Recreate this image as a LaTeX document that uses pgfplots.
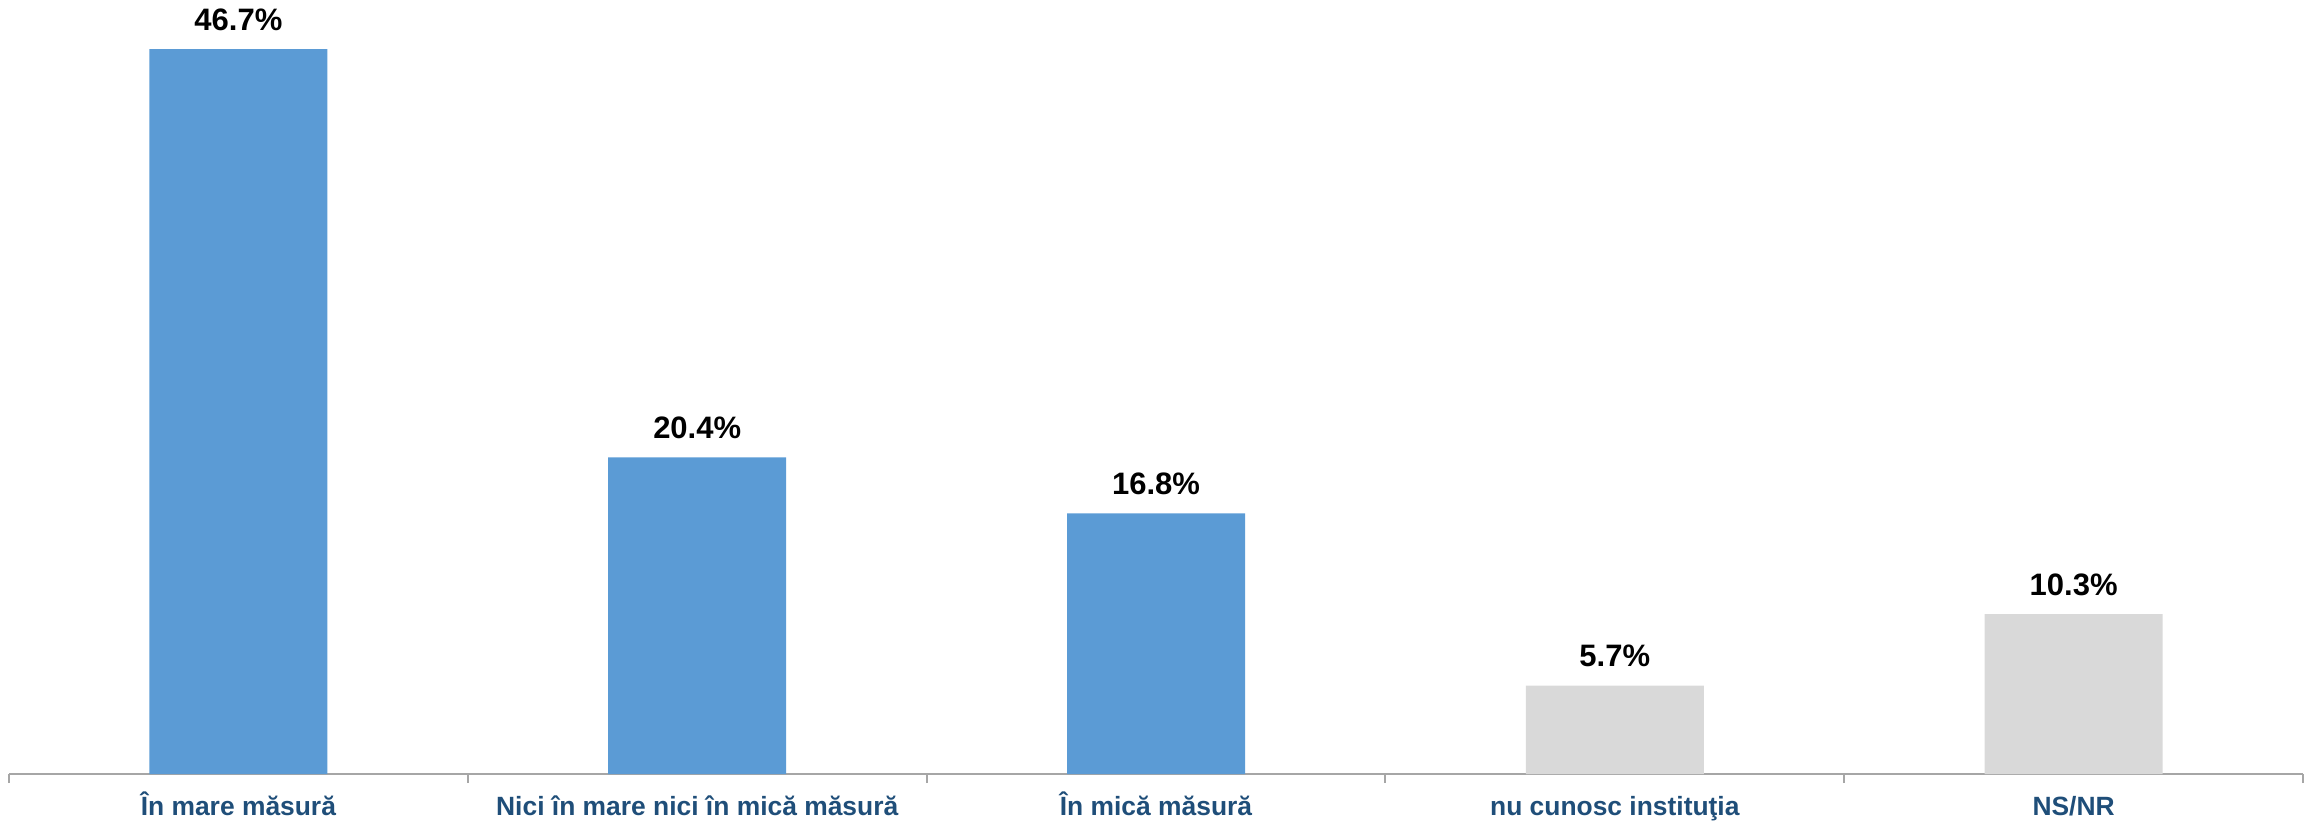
\documentclass[border=0pt]{standalone}
\usepackage{pgfplots}
\pgfplotsset{compat=1.18}
\usepackage{fontspec}
\setmainfont{Liberation Sans}
\definecolor{barblue}{HTML}{5B9BD5}
\definecolor{bargray}{HTML}{D9D9D9}
\definecolor{labblue}{HTML}{1F4E79}
\definecolor{axgray}{HTML}{A6A6A6}
\begin{document}
\begin{tikzpicture}
\begin{axis}[
  name=ax,
  scale only axis,
  width=1147pt, height=387pt,
  xmin=-0.5, xmax=4.5, ymin=0, ymax=49.87,
  ybar, bar width=89pt,
  axis x line*=bottom,
  axis y line=none,
  axis line style={axgray, line width=1pt},
  xtick={-0.5,0.5,1.5,2.5,3.5,4.5},
  x tick label as interval,
  xticklabels={În mare măsură, Nici în mare nici în mică măsură, În mică măsură, nu cunosc instituţia, NS/NR},
  tick align=outside,
  major tick length=4.5pt,
  x tick style={axgray, line width=1pt},
  x tick label style={font=\fontsize{13.2}{15}\selectfont\bfseries, text=labblue, text height=10pt, text depth=3pt, anchor=north, yshift=-2.5pt},
  /pgf/number format/assume math mode=true,
  nodes near coords={\pgfmathprintnumber[fixed,precision=1,fixed zerofill,assume math mode=true]{\pgfplotspointmeta}\%},
  every node near coord/.append style={font=\fontsize{15.5}{17}\selectfont\bfseries, text=black, anchor=south, inner sep=0pt, yshift=9pt},
  clip=false,
]
\addplot[fill=barblue, draw=none, bar shift=0pt] coordinates {(0,46.7) (1,20.4) (2,16.8)};
\addplot[fill=bargray, draw=none, bar shift=0pt] coordinates {(3,5.7) (4,10.3)};
\end{axis}
\pgfresetboundingbox
\path (ax.south west) ++(-4.5pt,-24pt) rectangle ([xshift=1pt]ax.north east);
\end{tikzpicture}
\end{document}
